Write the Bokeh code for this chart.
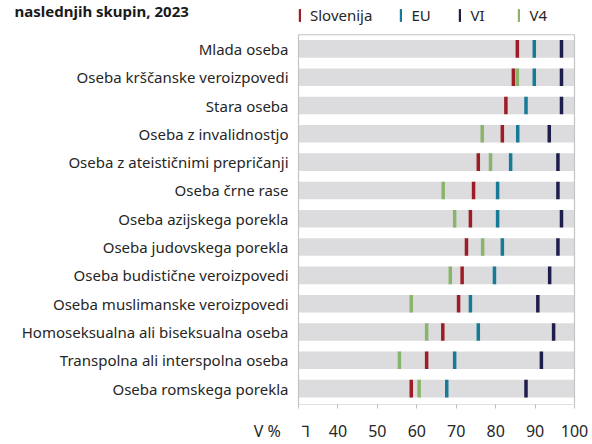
from bokeh.plotting import figure
from bokeh.models import (Range1d, FixedTicker, Legend, LegendItem, Label)
from bokeh.core.properties import value
from bokeh.embed import file_html
from bokeh.resources import INLINE
import numpy as np

categories = [
    "Mlada oseba",
    "Oseba krščanske veroizpovedi",
    "Stara oseba",
    "Oseba z invalidnostjo",
    "Oseba z ateističnimi prepričanji",
    "Oseba črne rase",
    "Oseba azijskega porekla",
    "Oseba judovskega porekla",
    "Oseba budistične veroizpovedi",
    "Oseba muslimanske veroizpovedi",
    "Homoseksualna ali biseksualna oseba",
    "Transpolna ali interspolna oseba",
    "Oseba romskega porekla",
]
slovenija = [85.5, 84.5, 82.6, 81.7, 75.6, 74.4, 73.6, 72.6, 71.5, 70.6, 66.6, 62.5, 58.6]
eu = [89.8, 89.8, 87.7, 85.6, 83.8, 80.5, 80.5, 81.7, 79.7, 73.6, 75.6, 69.6, 67.6]
vi = [96.7, 96.7, 96.7, 93.6, 95.8, 95.8, 96.7, 95.8, 93.7, 90.7, 94.7, 91.6, 87.7]
v4 = [None, 85.5, None, 76.6, 78.7, 66.7, 69.6, 76.7, 68.5, 58.6, 62.5, 55.6, 60.6]
x_ticks = [30, 40, 50, 60, 70, 80, 90, 100]
x_min, x_max = 30, 100
title_text = "naslednjih skupin, 2023"
x_unit_label = "V %"
break_symbol = "⅂"

n = len(categories)
ys = [n - 1 - i for i in range(n)]
NB = "\u00a0"

# ---- layout (pixels) ----
W, H = 592, 444
BOTTOM = 31                 # space for x tick labels
PLOT_L, PLOT_R = 298, 574   # data area, canvas px
PLOT_T = 35                 # top of data area, canvas px
frame_h = H - BOTTOM
y_lo, y_top = -0.56, n - 0.5
ppu_x = (PLOT_R - PLOT_L) / (x_max - x_min)
ppu_y = (frame_h - PLOT_T) / (y_top - y_lo)
x_range = Range1d(x_min - PLOT_L / ppu_x, x_max + (W - PLOT_R) / ppu_x)
y_range = Range1d(y_lo, y_top + PLOT_T / ppu_y)

p = figure(width=W, height=H, output_backend="svg", toolbar_location=None,
           x_range=x_range, y_range=y_range, y_axis_location=None,
           min_border_left=0, min_border_right=0, min_border_top=0,
           min_border_bottom=BOTTOM)
p.grid.visible = False
p.outline_line_color = None

FONT = "Noto Sans"
TXT = "#262626"

# bands
p.hbar(y=ys, left=[x_min] * n, right=[x_max] * n, height=0.62,
       fill_color="#dcdcde", line_color=None)
# plot-area border
p.quad(left=[x_min], right=[x_max], bottom=[y_lo], top=[y_top],
       fill_color=None, line_color="#c4c4c4", line_width=1.2)

series = [("Slovenija", slovenija, "#9e1c26"),
          ("EU", eu, "#177b97"),
          ("VI", vi, "#1e1e4c"),
          ("V4", v4, "#88b46c")]
renderers = {}
for name, vals, col in series:
    xs = [np.nan if v is None else v for v in vals]
    r = p.rect(x=xs, y=ys, width=3.5, width_units="screen", height=0.62,
               fill_color=col, line_color=None)
    renderers[name] = r

# category labels
p.text(x=[x_min] * n, y=ys, text=categories, x_offset=-10,
       text_align="right", text_baseline="middle",
       text_font=value(FONT), text_font_size="15px", text_color=TXT)

legend = Legend(items=[LegendItem(label=nm, renderers=[renderers[nm]]) for nm, _, _ in series],
                orientation="horizontal", location=(PLOT_L, frame_h - 34),
                glyph_width=3, glyph_height=16, label_height=16,
                label_standoff=9, spacing=27, padding=0, margin=0,
                border_line_color=None, background_fill_alpha=0,
                label_text_font=FONT, label_text_font_size="15px",
                label_text_color=TXT)
p.add_layout(legend, "center")

p.add_layout(Label(x=14, y=frame_h - 19, x_units="screen", y_units="screen",
                   text=title_text, text_font=FONT, text_font_size="15px",
                   text_font_style="bold", text_color="#1a1a1a",
                   text_baseline="alphabetic"))

# x axis
xa = p.xaxis[0]
xa.ticker = FixedTicker(ticks=x_ticks)
xa.major_label_overrides = {x_ticks[0]: x_unit_label + NB * 5 + break_symbol + NB * 8}
xa.axis_line_color = None
xa.major_tick_line_color = "#bdbdbd"
xa.major_tick_out = 4
xa.major_tick_in = 0
xa.minor_tick_line_color = None
xa.major_label_text_font = FONT
xa.major_label_text_font_size = "16px"
xa.major_label_text_color = TXT
xa.major_label_standoff = 11

open("out.html", "w").write(file_html(p, INLINE))
